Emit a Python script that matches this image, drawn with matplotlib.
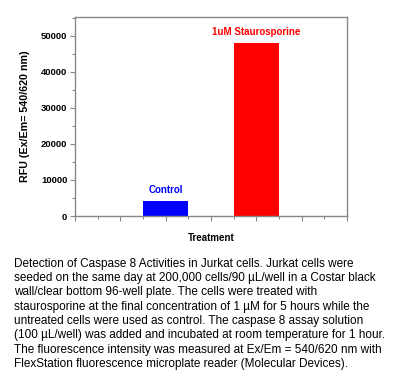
import matplotlib

matplotlib.use("Agg")
import matplotlib.pyplot as plt
from matplotlib.ticker import MultipleLocator, NullFormatter

plt.rcParams["font.family"] = ["Liberation Sans", "DejaVu Sans"]

categories = ["Control", "1uM Staurosporine"]
rfu = [4250, 48000]
bar_colors = ["#0000ff", "#ff0000"]
positions = [2, 4]

caption_lines = [
    "Detection of Caspase 8 Activities in Jurkat cells. Jurkat cells were",
    "seeded on the same day at 200,000 cells/90 \u00b5L/well in a Costar black",
    "wall/clear bottom 96-well plate. The cells were treated with",
    "staurosporine at the final concentration of 1 \u00b5M for 5 hours while the",
    "untreated cells were used as control. The caspase 8 assay solution",
    "(100 \u00b5L/well) was added and incubated at room temperature for 1 hour.",
    "The fluorescence intensity was measured at Ex/Em = 540/620 nm with",
    "FlexStation fluorescence microplate reader (Molecular Devices).",
]

fig = plt.figure(figsize=(4.0, 3.75), dpi=100)
ax = fig.add_axes([0.1875, 0.424, 0.68, 0.5315])

ax.bar(positions, rfu, width=1.0, color=bar_colors, edgecolor="none")
ax.set_xlim(0, 6)
ax.set_ylim(0, 55300)

for pos, val, name, col in zip(positions, rfu, categories, bar_colors):
    ax.text(pos, val + 3000, name, color=col, ha="center", va="center",
            fontsize=7, fontweight="bold")

ax.xaxis.set_major_locator(MultipleLocator(1))
ax.xaxis.set_minor_locator(MultipleLocator(0.5))
ax.xaxis.set_major_formatter(NullFormatter())
ax.yaxis.set_major_locator(MultipleLocator(10000))
ax.yaxis.set_minor_locator(MultipleLocator(5000))

for side in ax.spines.values():
    side.set_color("#888888")
    side.set_linewidth(1.0)
ax.tick_params(axis="both", which="major", length=3.5, color="#888888",
               labelsize=6.8, width=0.8)
ax.tick_params(axis="both", which="minor", length=2, color="#888888", width=0.8)
for lbl in ax.get_yticklabels():
    lbl.set_fontweight("bold")
ax.tick_params(axis="y", pad=2)

ax.set_xlabel("Treatment", fontsize=7, fontweight="bold", labelpad=5)
ax.set_ylabel("RFU (Ex/Em= 540/620 nm)", fontsize=7.7, fontweight="bold", labelpad=8)

fig.text(0.035, 1 - 257.5 / 375, "\n".join(caption_lines), ha="left", va="top",
         fontsize=8.5, linespacing=1.265)

fig.savefig("out.png", dpi=100, facecolor="white")
